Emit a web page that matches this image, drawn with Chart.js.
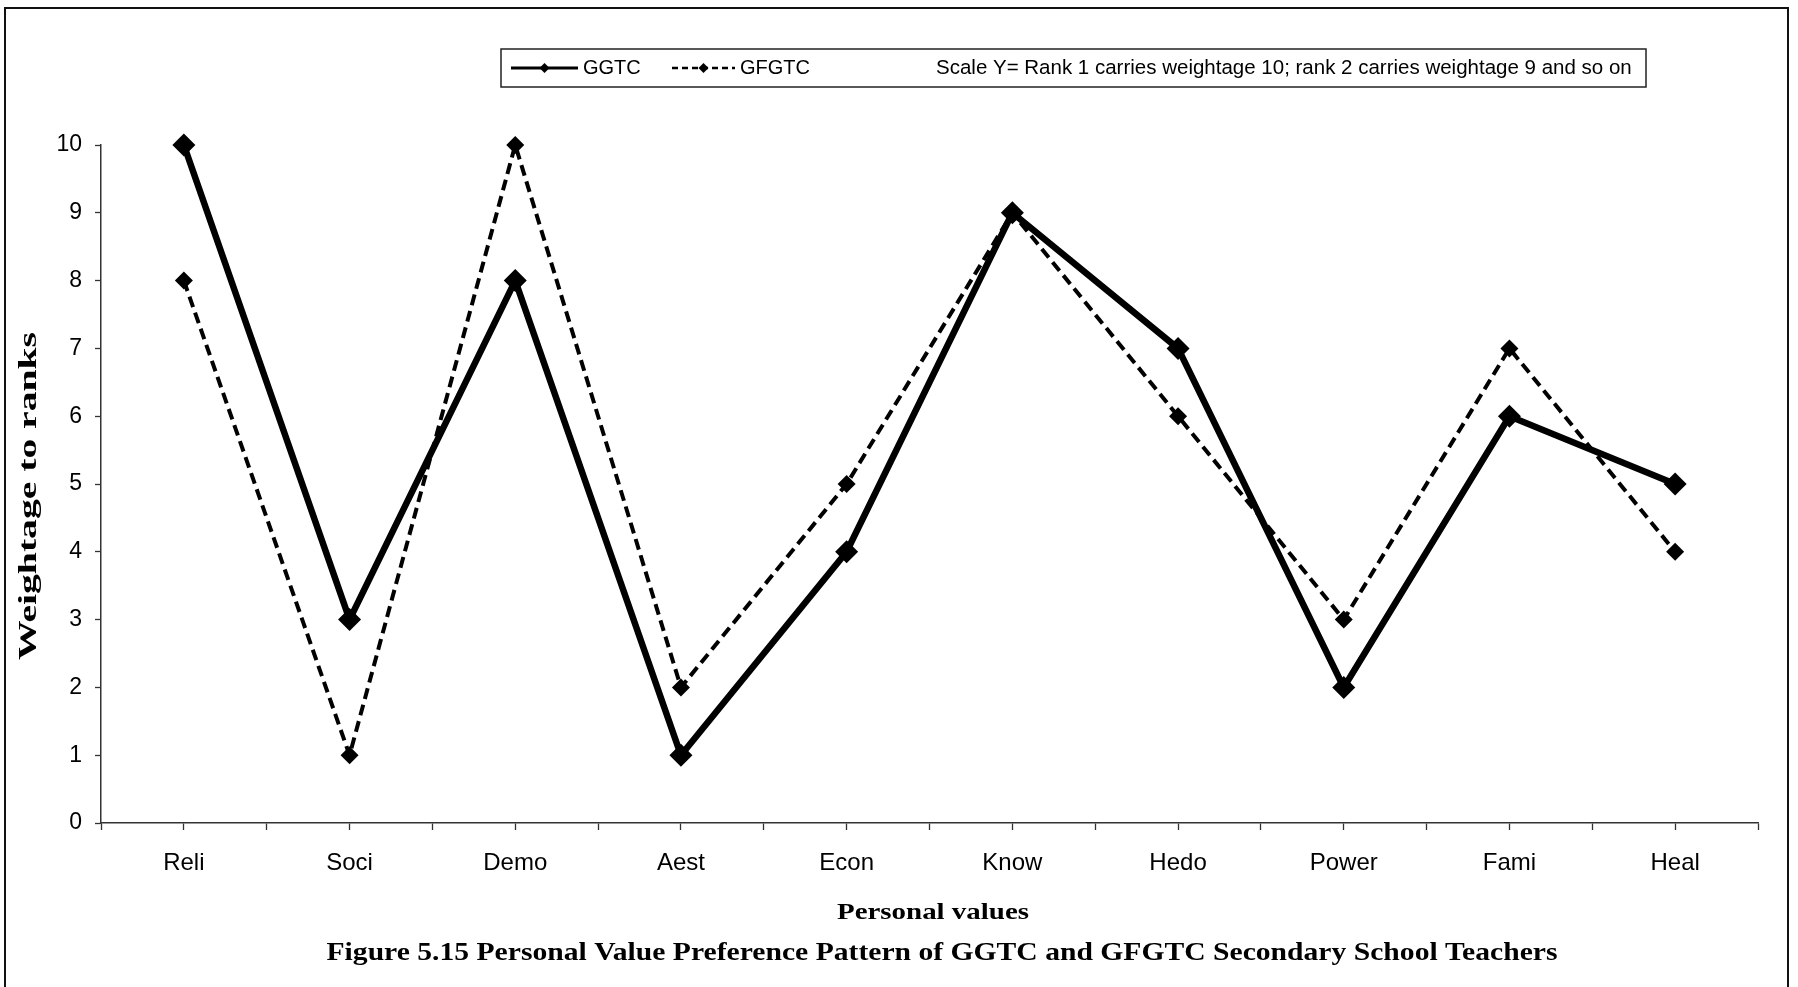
<!DOCTYPE html>
<html>
<head>
<meta charset="utf-8">
<title>Personal Value Preference Pattern</title>
<script src="https://cdn.jsdelivr.net/npm/chart.js@4.4.1/dist/chart.umd.min.js"></script>
<style>
  html, body { margin: 0; padding: 0; background: #fff; width: 1798px; height: 987px; overflow: hidden; }
  #frame { position: absolute; left: 4px; top: 7px; width: 1785px; height: 1200px;
           border: 2px solid #111; box-sizing: border-box; }
  #wrap { position: absolute; left: 0; top: 0; width: 1798px; height: 987px; }
</style>
</head>
<body>
<div id="frame"></div>
<div id="wrap"><canvas id="chart" width="1798" height="987"></canvas></div>
<script>
// Personal values on the x axis
const categories = ['Reli', 'Soci', 'Demo', 'Aest', 'Econ', 'Know', 'Hedo', 'Power', 'Fami', 'Heal'];
// Weightage to ranks (rank 1 = 10 ... rank 10 = 1)
const ggtcValues  = [10, 3, 8, 1, 4, 9, 7, 2, 6, 5];
const gfgtcValues = [8, 1, 10, 2, 5, 9, 6, 3, 7, 4];
const yTickValues = [0, 1, 2, 3, 4, 5, 6, 7, 8, 9, 10];
const seriesNames = ['GGTC', 'GFGTC'];
const scaleNote = 'Scale Y= Rank 1 carries weightage 10; rank 2 carries weightage 9 and so on';
const xAxisTitle = 'Personal values';
const yAxisTitle = 'Weightage to ranks';
const figureCaption = 'Figure 5.15 Personal Value Preference Pattern of GGTC and GFGTC Secondary School Teachers';

const SANS = "'Liberation Sans', Arial, sans-serif";
const SERIF = "'Liberation Serif', 'Times New Roman', serif";

const toPoints = vals => vals.map((v, i) => ({ x: i, y: v }));

// Text drawn centred at (cx, cy), stretched along its length to span `length`
function drawStretched(ctx, text, cx, cy, font, length, angle) {
  ctx.save();
  ctx.font = font;
  const w = ctx.measureText(text).width;
  const sx = length ? length / w : 1;
  ctx.translate(cx, cy);
  if (angle) ctx.rotate(angle);
  ctx.scale(sx, 1);
  ctx.textAlign = 'center';
  ctx.textBaseline = 'middle';
  ctx.fillStyle = '#000';
  ctx.fillText(text, 0, 0);
  ctx.restore();
}

function diamond(ctx, x, y, r) {
  ctx.beginPath();
  ctx.moveTo(x, y - r);
  ctx.lineTo(x + r, y);
  ctx.lineTo(x, y + r);
  ctx.lineTo(x - r, y);
  ctx.closePath();
  ctx.fill();
}

// Legend box, axis titles and the figure caption
const annotations = {
  id: 'annotations',
  afterDraw(chart) {
    const ctx = chart.ctx;
    const ds = chart.data.datasets;

    // legend box
    ctx.save();
    ctx.strokeStyle = '#222';
    ctx.lineWidth = 1.5;
    ctx.strokeRect(501, 49, 1145, 38);
    const ly = 68;
    const samples = [
      { x0: 511, x1: 578, tx: 583, width: 3, dash: [], r: 5 },
      { x0: 672, x1: 735, tx: 740, width: 2.5, dash: [6, 4], r: 5 }
    ];
    samples.forEach((s, i) => {
      ctx.strokeStyle = ds[i].borderColor;
      ctx.fillStyle = ds[i].pointBackgroundColor;
      ctx.lineWidth = s.width;
      ctx.setLineDash(s.dash);
      ctx.beginPath();
      ctx.moveTo(s.x0, ly);
      ctx.lineTo(s.x1, ly);
      ctx.stroke();
      ctx.setLineDash([]);
      diamond(ctx, (s.x0 + s.x1) / 2, ly, s.r);
      ctx.fillStyle = '#000';
      ctx.font = '20px ' + SANS;
      ctx.textAlign = 'left';
      ctx.textBaseline = 'middle';
      ctx.fillText(seriesNames[i], s.tx, ly);
    });
    ctx.font = '20.5px ' + SANS;
    ctx.textAlign = 'left';
    ctx.fillText(scaleNote, 936, ly);
    ctx.restore();

    // y axis title, reading upwards
    drawStretched(ctx, yAxisTitle, 29, 496, 'bold 26px ' + SERIF, 328, -Math.PI / 2);

    // x axis title and caption
    drawStretched(ctx, xAxisTitle, 933, 913, 'bold 24px ' + SERIF, 192);
    drawStretched(ctx, figureCaption, 942, 954, 'bold 25px ' + SERIF, 1231);
  }
};

new Chart(document.getElementById('chart'), {
  type: 'line',
  data: {
    datasets: [
      {
        label: seriesNames[0],
        data: toPoints(ggtcValues),
        borderColor: '#000',
        borderWidth: 6.5,
        pointStyle: 'rectRot',
        pointRadius: 11.5,
        pointBackgroundColor: '#000',
        pointBorderColor: '#000',
        pointBorderWidth: 0,
        tension: 0,
        clip: false
      },
      {
        label: seriesNames[1],
        data: toPoints(gfgtcValues),
        borderColor: '#000',
        borderWidth: 4,
        borderDash: [11, 6],
        pointStyle: 'rectRot',
        pointRadius: 9,
        pointBackgroundColor: '#000',
        pointBorderColor: '#000',
        pointBorderWidth: 0,
        tension: 0,
        clip: false
      }
    ]
  },
  options: {
    responsive: false,
    animation: false,
    devicePixelRatio: 1,
    layout: { padding: { top: 145, right: 40, left: 0, bottom: 0 } },
    plugins: { legend: { display: false }, tooltip: { enabled: false } },
    scales: {
      x: {
        type: 'linear',
        min: -0.5,
        max: categories.length - 0.5,
        afterFit(scale) { scale.height = 987 - 823; },
        afterBuildTicks(scale) {
          // a tick at every category and every category boundary
          const t = [];
          for (let i = 0; i <= categories.length * 2; i++) t.push({ value: -0.5 + i / 2 });
          scale.ticks = t;
        },
        ticks: {
          autoSkip: false,
          maxRotation: 0,
          padding: 19,
          color: '#000',
          font: { family: SANS, size: 24 },
          callback(v) {
            const i = Math.round(v * 2) / 2;
            return Number.isInteger(i) ? categories[i] : '';
          }
        },
        grid: { drawOnChartArea: false, drawTicks: true, tickLength: 7, tickColor: '#333', tickWidth: 1.3 },
        border: { display: true, color: '#333', width: 1.5 }
      },
      y: {
        min: 0,
        max: 10,
        afterFit(scale) { scale.width = 101; },
        afterBuildTicks(scale) { scale.ticks = yTickValues.map(v => ({ value: v })); },
        ticks: {
          padding: 13,
          color: '#000',
          font: { family: SANS, size: 23 }
        },
        grid: { drawOnChartArea: false, drawTicks: true, tickLength: 6, tickColor: '#333', tickWidth: 1.3 },
        border: { display: true, color: '#333', width: 1.5 }
      }
    }
  },
  plugins: [annotations]
});
</script>
</body>
</html>
